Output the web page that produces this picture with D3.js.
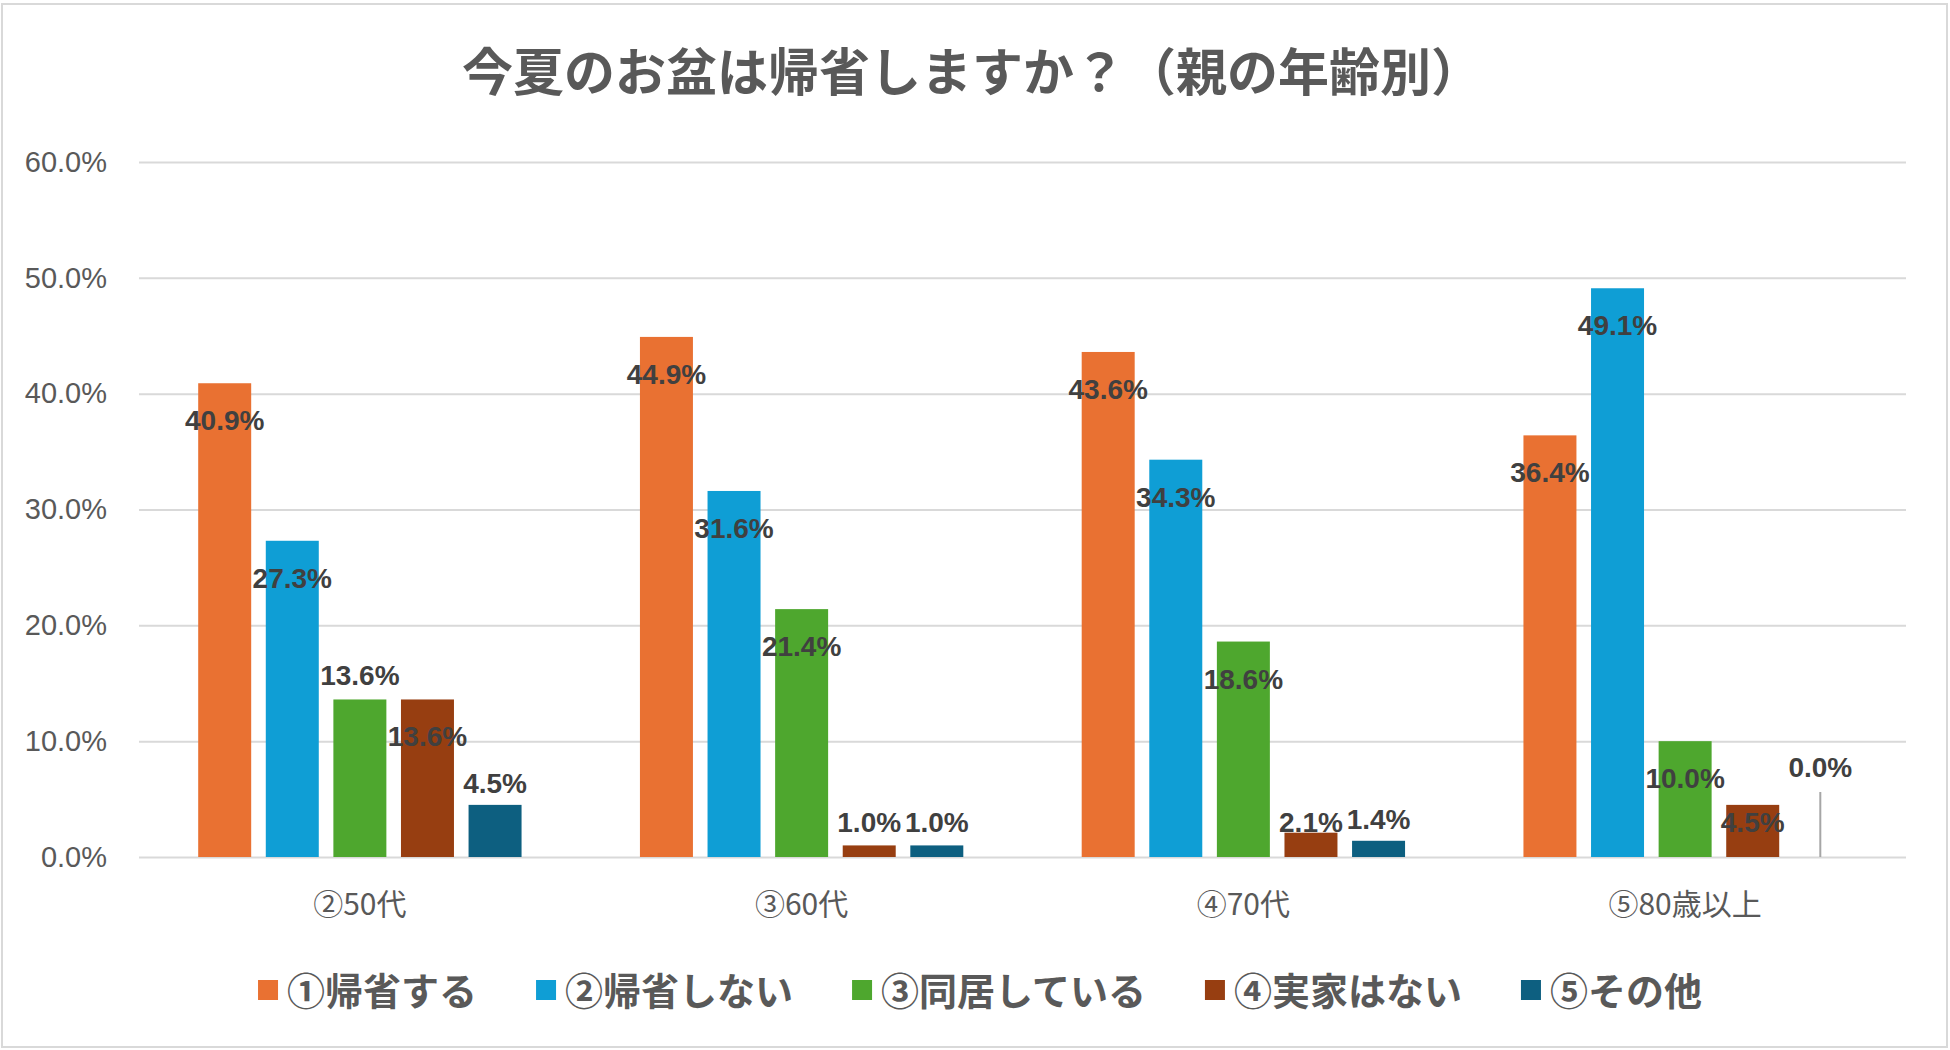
<!DOCTYPE html>
<html>
<head>
<meta charset="utf-8">
<script src="https://cdn.jsdelivr.net/npm/d3@7"></script>
<style>
  body { margin: 0; background: #ffffff; }
  svg { display: block; }
</style>
</head>
<body>
<div id="chart"></div>
<script>
//DATA
var categories = ["②50代", "③60代", "④70代", "⑤80歳以上"];
var seriesNames = ["①帰省する", "②帰省しない", "③同居している", "④実家はない", "⑤その他"];
var seriesColors = ["#E97132", "#0F9ED5", "#4EA72E", "#973E11", "#0D5F80"];
var kaeru = [40.9, 44.9, 43.6, 36.4];
var kaeranai = [27.3, 31.6, 34.3, 49.1];
var doukyo = [13.6, 21.4, 18.6, 10.0];
var jikkaNashi = [13.6, 1.0, 2.1, 4.5];
var sonota = [4.5, 1.0, 1.4, 0.0];
var yTicks = [0, 10, 20, 30, 40, 50, 60];
var chartTitle = "今夏のお盆は帰省しますか？（親の年齢別）";

var seriesValues = [kaeru, kaeranai, doukyo, jikkaNashi, sonota];

//CANVAS
var svgWidth = 1950;
var svgHeight = 1050;
var margin = { top: 162, bottom: 193, left: 139, right: 44 };
var chartWidth = svgWidth - margin.left - margin.right;
var chartHeight = svgHeight - margin.top - margin.bottom;

var cjk = "'Noto Sans CJK JP', 'Noto Sans', sans-serif";
var latin = "'Liberation Sans', Arial, sans-serif";
var grey = "#595959";

var svg = d3.select("#chart")
    .append("svg")
    .attr("width", svgWidth)
    .attr("height", svgHeight);

svg.append("rect")
    .attr("x", 2).attr("y", 4)
    .attr("width", svgWidth - 5).attr("height", svgHeight - 7)
    .attr("fill", "#ffffff")
    .attr("stroke", "#d9d9d9")
    .attr("stroke-width", 2);

//TITLE
svg.append("text")
    .attr("x", 972)
    .attr("y", 69)
    .attr("text-anchor", "middle")
    .attr("dominant-baseline", "central")
    .style("font-family", cjk)
    .style("font-weight", 700)
    .style("font-size", "51px")
    .style("fill", grey)
    .text(chartTitle);

var chartGroup = svg.append("g")
    .attr("transform", `translate(${margin.left}, ${margin.top})`);

//SCALES
var yScale = d3.scaleLinear()
    .domain([0, 60])
    .range([chartHeight, 0]);

var x0 = d3.scaleBand()
    .domain(categories)
    .range([0, chartWidth])
    .paddingInner(0.268)
    .paddingOuter(0.134);

var x1 = d3.scaleBand()
    .domain(d3.range(seriesNames.length))
    .range([0, x0.bandwidth()])
    .paddingInner(0.216);

//GRIDLINES + Y AXIS
var leftAxis = d3.axisLeft(yScale)
    .tickValues(yTicks)
    .tickSize(-chartWidth)
    .tickPadding(32)
    .tickFormat(d => d.toFixed(1) + "%");

var yAxis = chartGroup.append("g").call(leftAxis);
yAxis.select(".domain").remove();
yAxis.selectAll(".tick line")
    .attr("stroke", "#d9d9d9")
    .attr("stroke-width", 2);
yAxis.selectAll(".tick text")
    .style("font-family", latin)
    .style("font-size", "29px")
    .style("fill", grey);

//X AXIS LABELS
var bottomAxis = d3.axisBottom(x0).tickSize(0).tickPadding(37);
var xAxis = chartGroup.append("g")
    .attr("transform", `translate(0, ${chartHeight})`)
    .call(bottomAxis);
xAxis.select(".domain").remove();
xAxis.selectAll(".tick text")
    .style("font-family", cjk)
    .style("font-size", "30px")
    .style("fill", grey);

//BARS
var groups = chartGroup.selectAll(".cat")
    .data(categories)
    .enter()
    .append("g")
    .attr("class", "cat")
    .attr("transform", d => `translate(${x0(d)}, 0)`);

var cells = groups.selectAll("rect")
    .data((c, ci) => seriesValues.map((vals, si) => ({ si: si, ci: ci, v: vals[ci] })))
    .enter();

cells.append("rect")
    .attr("x", d => x1(d.si))
    .attr("y", d => yScale(d.v))
    .attr("width", x1.bandwidth())
    .attr("height", d => chartHeight - yScale(d.v))
    .attr("fill", d => seriesColors[d.si]);

//DATA LABELS
//inside end by default, kept clear of the axis; last series sits outside end;
//a label that would run into its right neighbour is lifted above its bar
var labelSize = 28;
var lastSeries = seriesNames.length - 1;
var labels = groups.selectAll(".lbl")
    .data((c, ci) => seriesValues.map((vals, si) => ({ si: si, ci: ci, v: vals[ci] })))
    .enter()
    .append("text")
    .attr("class", "lbl")
    .attr("x", d => x1(d.si) + x1.bandwidth() / 2)
    .attr("text-anchor", "middle")
    .style("font-family", latin)
    .style("font-weight", 700)
    .style("font-size", labelSize + "px")
    .style("fill", "#404040")
    .text(d => d.v.toFixed(1) + "%");

labels.each(function(d) {
    var top = yScale(d.v);
    var y = d.si === lastSeries ? top - 12 : top + 47;
    d.y = Math.min(y, chartHeight - 25);
    d.w = this.getComputedTextLength();
});

categories.forEach(function(c, ci) {
    var row = labels.filter(d => d.ci === ci).data();
    for (var i = row.length - 2; i >= 0; i--) {
        var a = row[i], b = row[i + 1];
        var clash = (a.w + b.w) / 2 > x1.step() && Math.abs(a.y - b.y) < 20;
        if (clash) a.y = yScale(a.v) - 14;
    }
});

labels.each(function(d) {
    if (d.v === 0) d.y = chartHeight - 80;
});
labels.attr("y", d => d.y);

//leader line for a zero bar whose label has been lifted
groups.selectAll(".leader")
    .data((c, ci) => seriesValues.map((vals, si) => ({ si: si, v: vals[ci] })).filter(d => d.v === 0))
    .enter()
    .append("line")
    .attr("x1", d => x1(d.si) + x1.bandwidth() / 2)
    .attr("x2", d => x1(d.si) + x1.bandwidth() / 2)
    .attr("y1", chartHeight - 65)
    .attr("y2", chartHeight)
    .attr("stroke", "#a6a6a6")
    .attr("stroke-width", 2);

//LEGEND
var legend = svg.append("g");
var legendX = 0;
seriesNames.forEach(function(name, i) {
    var item = legend.append("g").attr("transform", `translate(${legendX}, 0)`);
    item.append("rect")
        .attr("x", 0).attr("y", 980)
        .attr("width", 20).attr("height", 20)
        .attr("fill", seriesColors[i]);
    var t = item.append("text")
        .attr("x", 29)
        .attr("y", 988)
        .attr("dominant-baseline", "central")
        .style("font-family", cjk)
        .style("font-weight", 700)
        .style("font-size", "38px")
        .style("fill", grey)
        .text(name);
    legendX += 29 + t.node().getComputedTextLength() + 59;
});
var legendWidth = legendX - 59;
legend.attr("transform", `translate(${980 - legendWidth / 2}, 0)`);
</script>
</body>
</html>
